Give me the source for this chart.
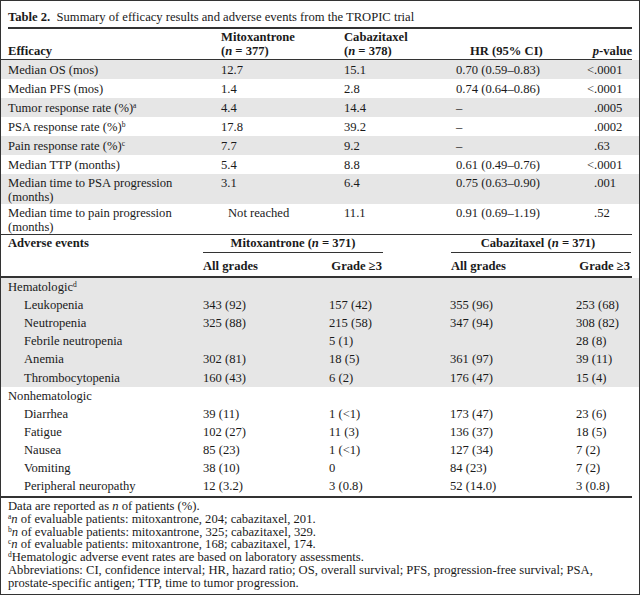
<!DOCTYPE html>
<html>
<head>
<meta charset="utf-8">
<script src="https://cdn.jsdelivr.net/npm/chart.js@4.4.1/dist/chart.umd.min.js"></script>
<style>
  html, body { margin: 0; padding: 0; background: #fff; }
  #frame {
    position: absolute; left: 0; top: 0; width: 640px; height: 595px; box-sizing: border-box;
    border: 1px solid #333; font-family: "Liberation Serif", "Times New Roman", serif;
    font-size: 12.6px; color: #1a1a1a; overflow: hidden;
  }
  .t { position: absolute; white-space: nowrap; line-height: 14px; }
  .b { font-weight: bold; }
  .shade { position: absolute; background: #e6e6e6; }
  .rule { position: absolute; background: #333; }
  sup { font-size: 7.5px; vertical-align: 4px; line-height: 0; }
</style>
</head>
<body>
<div id="frame"></div>
<script>
// Efficacy data
const effLabels = ['Median OS (mos)', 'Median PFS (mos)', 'Tumor response rate (%)<sup>a</sup>',
  'PSA response rate (%)<sup>b</sup>', 'Pain response rate (%)<sup>c</sup>', 'Median TTP (months)',
  ['Median time to PSA progression', '(months)'], ['Median time to pain progression', '(months)']];
const effMitox = ['12.7', '1.4', '4.4', '17.8', '7.7', '5.4', '3.1', 'Not reached'];
const effCabaz = ['15.1', '2.8', '14.4', '39.2', '9.2', '8.8', '6.4', '11.1'];
const effHR = ['0.70 (0.59–0.83)', '0.74 (0.64–0.86)', '–', '–', '–', '0.61 (0.49–0.76)', '0.75 (0.63–0.90)', '0.91 (0.69–1.19)'];
const effP = ['&lt;.0001', '&lt;.0001', '.0005', '.0002', '.63', '&lt;.0001', '.001', '.52'];

// Adverse events data
const aeGroups = ['Hematologic<sup>d</sup>', 'Nonhematologic'];
const aeNames = [
  ['Leukopenia', 'Neutropenia', 'Febrile neutropenia', 'Anemia', 'Thrombocytopenia'],
  ['Diarrhea', 'Fatigue', 'Nausea', 'Vomiting', 'Peripheral neuropathy']
];
const mitoxAll = [['343 (92)', '325 (88)', '', '302 (81)', '160 (43)'], ['39 (11)', '102 (27)', '85 (23)', '38 (10)', '12 (3.2)']];
const mitoxG3 = [['157 (42)', '215 (58)', '5 (1)', '18 (5)', '6 (2)'], ['1 (&lt;1)', '11 (3)', '1 (&lt;1)', '0', '3 (0.8)']];
const cabazAll = [['355 (96)', '347 (94)', '', '361 (97)', '176 (47)'], ['173 (47)', '136 (37)', '127 (34)', '84 (23)', '52 (14.0)']];
const cabazG3 = [['253 (68)', '308 (82)', '28 (8)', '39 (11)', '15 (4)'], ['23 (6)', '18 (5)', '7 (2)', '7 (2)', '3 (0.8)']];

const footnotes = [
  'Data are reported as <i>n</i> of patients (%).',
  '<sup>a</sup><i>n</i> of evaluable patients: mitoxantrone, 204; cabazitaxel, 201.',
  '<sup>b</sup><i>n</i> of evaluable patients: mitoxantrone, 325; cabazitaxel, 329.',
  '<sup>c</sup><i>n</i> of evaluable patients: mitoxantrone, 168; cabazitaxel, 174.',
  '<sup>d</sup>Hematologic adverse event rates are based on laboratory assessments.',
  'Abbreviations: CI, confidence interval; HR, hazard ratio; OS, overall survival; PFS, progression-free survival; PSA,',
  'prostate-specific antigen; TTP, time to tumor progression.'
];

const frame = document.getElementById('frame');

// helpers (frame has a 1px border, so subtract it)
function text(html, x, cy, opts = {}) {
  const d = document.createElement('div');
  d.className = 't' + (opts.bold ? ' b' : '');
  d.innerHTML = html;
  d.style.top = (cy - 7 - 1) + 'px';
  if (opts.align === 'right') d.style.right = (639 - x) + 'px';
  else if (opts.align === 'center') { d.style.left = (x - 1) + 'px'; d.style.transform = 'translateX(-50%)'; }
  else d.style.left = (x - 1) + 'px';
  if (opts.size) d.style.fontSize = opts.size + 'px';
  frame.appendChild(d);
}
function box(cls, x, y, w, h) {
  const d = document.createElement('div');
  d.className = cls;
  d.style.cssText = `left:${x - 1}px;top:${y - 1}px;width:${w}px;height:${h}px`;
  frame.appendChild(d);
}

// Title
text('<b>Table 2.</b>&nbsp; Summary of efficacy results and adverse events from the TROPIC trial', 8, 17);
box('rule', 8, 27, 624, 1.5);

// Efficacy header
text('Efficacy', 8, 51, { bold: true });
text('Mitoxantrone', 221, 37, { bold: true });
text('(<i>n</i> = 377)', 221, 51, { bold: true });
text('Cabazitaxel', 344, 37, { bold: true });
text('(<i>n</i> = 378)', 344, 51, { bold: true });
text('HR (95% CI)', 470, 51, { bold: true });
text('<i>p</i>-value', 632, 51, { bold: true, align: 'right' });
box('rule', 1, 59, 631, 1);

// Efficacy rows
let y = 60;
effLabels.forEach((lab, i) => {
  const two = Array.isArray(lab);
  const h = two ? 30 : 19;
  if (i % 2 === 0) box('shade', 1, y, 638, h);
  const cy = two ? y + 9 : y + h / 2;
  if (two) { text(lab[0], 8, cy); text(lab[1], 8, cy + 14); } else text(lab, 8, cy);
  text(effMitox[i], effMitox[i].length > 5 ? 228 : 221, cy);
  text(effCabaz[i], 344, cy);
  text(effHR[i], 456, cy);
  text(effP[i], effP[i].startsWith('&lt;') ? 587 : 594, cy);
  y += h;
});
box('rule', 1, y, 631, 1);

// Adverse events header
text('Adverse events', 8, y + 9, { bold: true });
text('Mitoxantrone (<i>n</i> = 371)', 293, y + 9, { bold: true, align: 'center' });
text('Cabazitaxel (<i>n</i> = 371)', 538, y + 9, { bold: true, align: 'center' });
box('rule', 203, y + 18, 180, 1);
box('rule', 451, y + 18, 180, 1);
text('All grades', 203, y + 32, { bold: true });
text('Grade ≥3', 382, y + 32, { bold: true, align: 'right' });
text('All grades', 451, y + 32, { bold: true });
text('Grade ≥3', 630, y + 32, { bold: true, align: 'right' });
y += 42;
box('rule', 1, y, 631, 1.5);
y += 2;

// Adverse events rows
const aeH = 18.1;
aeGroups.forEach((g, gi) => {
  const n = aeNames[gi].length + 1;
  if (gi === 0) box('shade', 1, y, 638, aeH * n);
  text(g, 8, y + aeH / 2);
  aeNames[gi].forEach((name, i) => {
    const cy = y + aeH * (i + 1) + aeH / 2;
    text(name, 24, cy);
    text(mitoxAll[gi][i], 203, cy);
    text(mitoxG3[gi][i], 329, cy);
    text(cabazAll[gi][i], 450, cy);
    text(cabazG3[gi][i], 576, cy);
  });
  y += aeH * n;
});
y = Math.round(y) + 1;
box('rule', 1, y, 631, 1.5);

// Footnotes
footnotes.forEach((f, i) => text(f, 8, y + 10 + i * 12.8, { size: 12.6 }));
</script>
</body>
</html>
